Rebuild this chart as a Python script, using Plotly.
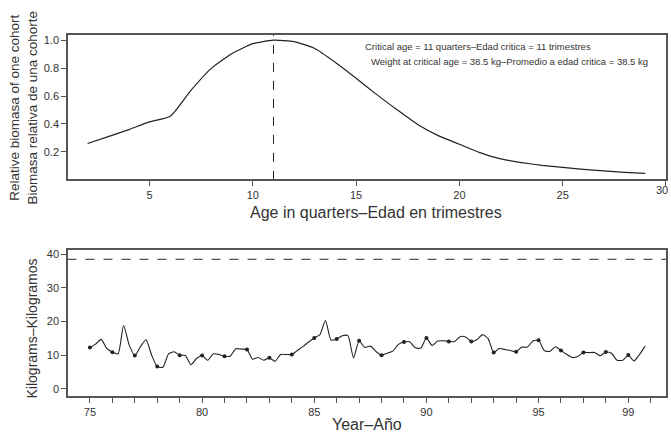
import plotly.graph_objects as go

# Top panel: relative biomass of one cohort by age (quarters)
ages = [2, 3, 4, 5, 6, 7, 8, 9, 10, 11, 12, 13, 14, 15, 16, 17, 18, 19, 20,
        21, 22, 23, 24, 25, 26, 27, 28, 29]
biomass = [0.26, 0.31, 0.36, 0.415, 0.455, 0.64, 0.80, 0.905, 0.975, 1.0,
           0.99, 0.94, 0.84, 0.727, 0.61, 0.50, 0.395, 0.315, 0.255, 0.195,
           0.15, 0.124, 0.104, 0.089, 0.075, 0.064, 0.054, 0.046]
critical_age = 11
critical_weight = 38.5
top_tickvals = [5, 10, 15, 20, 25, 30]
last_top_label = "30"

# Bottom panel: average weight (kg), quarterly 1975-1999
years_q = [75 + i * 0.25 for i in range(100)]
weights = [
    12.3, 13.3, 14.7, 12.0,   # 75
    10.9, 10.4, 18.8, 13.0,   # 76
    9.9, 12.5, 14.6, 10.0,    # 77
    6.6, 6.4, 10.3, 11.0,     # 78
    10.0, 9.9, 7.2, 9.0,      # 79
    9.9, 8.5, 10.4, 10.2,     # 80
    9.7, 9.7, 11.9, 11.8,     # 81
    11.7, 8.8, 9.3, 8.5,      # 82
    9.2, 8.2, 10.2, 10.2,     # 83
    10.2, 11.4, 12.6, 13.9,   # 84
    15.1, 16.1, 20.3, 14.5,   # 85
    14.8, 15.8, 15.8, 9.2,    # 86
    14.3, 12.3, 12.7, 11.1,   # 87
    10.0, 10.6, 11.2, 13.2,   # 88
    13.9, 14.0, 12.2, 12.1,   # 89
    15.1, 12.9, 14.2, 14.3,   # 90
    14.1, 14.0, 15.5, 15.4,   # 91
    14.1, 14.6, 16.1, 14.9,   # 92
    10.8, 12.0, 11.7, 11.4,   # 93
    11.0, 12.4, 12.4, 14.2,   # 94
    14.4, 11.4, 11.1, 12.5,   # 95
    11.4, 10.25, 9.3, 9.6,    # 96
    10.8, 10.75, 10.8, 9.85,  # 97
    10.95, 10.6, 8.5, 8.5,    # 98
    10.05, 8.3, 10.2, 12.7,   # 99
]
marker_years = list(range(75, 100))
marker_weights = [weights[i * 4] for i in range(25)]

bottom_tickvals = list(range(75, 101))
bottom_ticklabels = {75: "75", 80: "80", 85: "85", 90: "90", 95: "95", 99: "99"}

FONT = "Arial, Liberation Sans, Helvetica, sans-serif"
AX = "#555555"
TXT = "#333333"

fig = go.Figure()

fig.add_trace(go.Scatter(x=ages, y=biomass, mode="lines",
                         line=dict(color="#222222", width=1.2, shape="spline", smoothing=0.5),
                         xaxis="x", yaxis="y", showlegend=False, hoverinfo="skip"))
fig.add_trace(go.Scatter(x=[critical_age, critical_age], y=[0, 1.04], mode="lines",
                         line=dict(color="#222222", width=1, dash="dash"),
                         xaxis="x", yaxis="y", showlegend=False, hoverinfo="skip"))

fig.add_trace(go.Scatter(x=years_q, y=weights, mode="lines",
                         line=dict(color="#222222", width=1.1, shape="spline", smoothing=0.6),
                         xaxis="x2", yaxis="y2", showlegend=False, hoverinfo="skip"))
fig.add_trace(go.Scatter(x=marker_years, y=marker_weights, mode="markers",
                         marker=dict(color="#222222", size=4),
                         xaxis="x2", yaxis="y2", showlegend=False, hoverinfo="skip"))
fig.add_trace(go.Scatter(x=[74, 100.7], y=[critical_weight, critical_weight], mode="lines",
                         line=dict(color="#222222", width=1, dash="dash"),
                         xaxis="x2", yaxis="y2", showlegend=False, hoverinfo="skip"))

common_axis = dict(showgrid=False, zeroline=False, showline=True, linecolor=AX,
                   linewidth=1.5, mirror=True, ticks="outside", ticklen=5,
                   tickcolor=AX, tickwidth=1,
                   tickfont=dict(family=FONT, size=11, color=TXT))

XDOM = [0.1013, 0.9925]

fig.update_layout(
    width=671, height=435,
    margin=dict(l=0, r=0, t=0, b=0),
    paper_bgcolor="white", plot_bgcolor="white",
    xaxis=dict(domain=XDOM, range=[1.05, 30.0], tickvals=top_tickvals,
               ticktext=[str(v) for v in top_tickvals],
               anchor="y", **common_axis),
    yaxis=dict(domain=[0.5908, 0.9248], range=[0.005, 1.04], tickvals=[0.2, 0.4, 0.6, 0.8, 1.0],
               tickformat=".1f", anchor="x", **common_axis),
    xaxis2=dict(domain=XDOM, range=[74.02, 100.68], tickvals=bottom_tickvals,
                ticktext=[bottom_ticklabels.get(v, "") for v in bottom_tickvals],
                anchor="y2", **common_axis),
    yaxis2=dict(domain=[0.0903, 0.4276], range=[-2.1, 41.3], tickvals=[0, 10, 20, 30, 40],
                anchor="x2", **common_axis),
)

annotations = [
    dict(text="Critical age = 11 quarters–Edad critica = 11 trimestres",
         x=478 / 671, y=1 - 45 / 435, font=dict(size=9.5)),
    dict(text="Weight at critical age = 38.5 kg–Promedio a edad critica = 38.5 kg",
         x=510 / 671, y=1 - 60 / 435, font=dict(size=9.5)),
    dict(text="Age in quarters–Edad en trimestres",
         x=376 / 671, y=1 - 211 / 435, font=dict(size=16)),
    dict(text="Year–Año", x=367 / 671, y=1 - 424 / 435, font=dict(size=16)),
    dict(text="Relative biomasa of one cohort<br>Biomasa relativa de una cohorte",
         x=24 / 671, y=1 - 106 / 435, textangle=-90, font=dict(size=13.5)),
    dict(text="Kilograms–Kilogramos", x=32 / 671, y=1 - 328 / 435, textangle=-90,
         font=dict(size=14)),
]
for a in annotations:
    a["xanchor"] = "center"
# last tick label of the top axis, kept inside the page edge
annotations.append(dict(text=last_top_label, x=669 / 671, y=1 - 189 / 435,
                        xanchor="right", font=dict(size=11), borderpad=0))
for a in annotations:
    a.setdefault("xref", "paper")
    a.setdefault("yref", "paper")
    a["showarrow"] = False
    a["yanchor"] = "middle"
    a["font"] = dict(family=FONT, color=TXT, size=a["font"]["size"])
fig.update_layout(annotations=annotations)

post = (
    "document.body.style.margin='0px';"
    "document.body.style.overflow='hidden';"
)
fig.write_html("out.html", config={"displayModeBar": False}, post_script=post)
